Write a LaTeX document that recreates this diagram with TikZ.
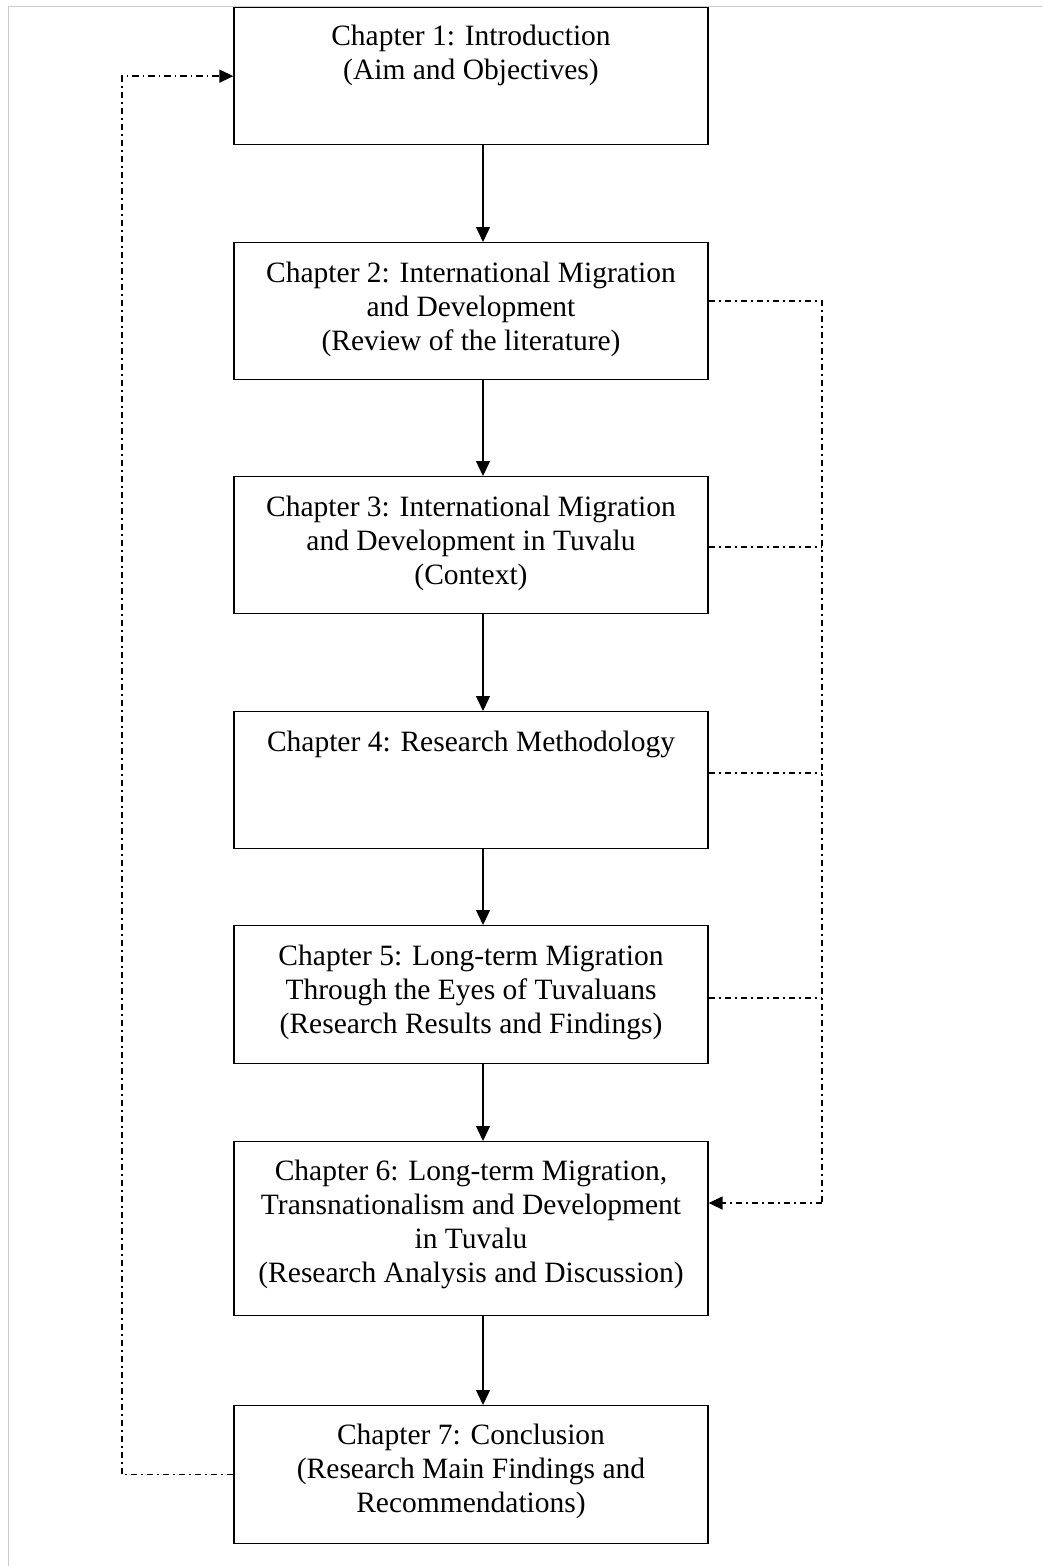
\documentclass[tikz,border=0pt]{standalone}
\usepackage{fontspec}
\setmainfont{Liberation Serif}
\usetikzlibrary{arrows.meta}
\begin{document}
\begin{tikzpicture}[x=1pt,y=-1pt,
  chbox/.style={draw=black,line width=1.3pt,minimum width=474pt,inner sep=0pt,anchor=north},
  chtext/.style={anchor=north,inner sep=0pt,align=center,font=\fontsize{29.5}{34}\selectfont},
  flow/.style={line width=1.3pt,-{Triangle[length=15pt,width=14pt]}},
  dd/.style={line width=1.4pt,dash pattern=on 6.5pt off 4pt on 1.5pt off 4pt},
  ddarrow/.style={dd,-{Triangle[length=14pt,width=13pt]}}]
\useasboundingbox (0,0) rectangle (1042,1566);
\draw[line width=1pt,color=black!20] (8,1566) -- (8,6.5) -- (1042,6.5);
% boxes
\node[chbox,minimum height=137pt] (b1) at (471,7) {};
\node[chbox,minimum height=137pt] (b2) at (471,242) {};
\node[chbox,minimum height=137pt] (b3) at (471,476) {};
\node[chbox,minimum height=137pt] (b4) at (471,711) {};
\node[chbox,minimum height=138pt] (b5) at (471,925) {};
\node[chbox,minimum height=174pt] (b6) at (471,1141) {};
\node[chbox,minimum height=138pt] (b7) at (471,1405) {};
% texts
\node[chtext] (t1) at ([yshift=-14pt]b1.north) {\strut Chapter 1: Introduction\\\strut(Aim and Objectives)};
\node[chtext] (t2) at ([yshift=-16pt]b2.north) {\strut Chapter 2: International Migration\\\strut and Development\\\strut(Review of the literature)};
\node[chtext] (t3) at ([yshift=-16pt]b3.north) {\strut Chapter 3: International Migration\\\strut and Development in Tuvalu\\\strut(Context)};
\node[chtext] (t4) at ([yshift=-16pt]b4.north) {\strut Chapter 4: Research Methodology};
\node[chtext] (t5) at ([yshift=-16pt]b5.north) {\strut Chapter 5: Long-term Migration\\\strut Through the Eyes of Tuvaluans\\\strut(Research Results and Findings)};
\node[chtext] (t6) at ([yshift=-15pt]b6.north) {\strut Chapter 6: Long-term Migration,\\\strut Transnationalism and Development\\\strut in Tuvalu\\\strut(Research Analysis and Discussion)};
\node[chtext] (t7) at ([yshift=-15pt]b7.north) {\strut Chapter 7: Conclusion\\\strut(Research Main Findings and\\\strut Recommendations)};
% solid flow arrows
\coordinate (ax) at (483,0);
\draw[flow] (b1.south -| ax) -- (b2.north -| ax);
\draw[flow] (b2.south -| ax) -- (b3.north -| ax);
\draw[flow] (b3.south -| ax) -- (b4.north -| ax);
\draw[flow] (b4.south -| ax) -- (b5.north -| ax);
\draw[flow] (b5.south -| ax) -- (b6.north -| ax);
\draw[flow] (b6.south -| ax) -- (b7.north -| ax);
% right feedback line
\coordinate (rx) at (822,0);
\coordinate (y2) at (0,301);
\coordinate (y3) at (0,547);
\coordinate (y4) at (0,773);
\coordinate (y5) at (0,998);
\coordinate (y6) at (0,1203);
\draw[dd] (b2.east |- y2) -- (rx |- y2) -- (rx |- y6);
\draw[dd] (b3.east |- y3) -- (rx |- y3);
\draw[dd] (b4.east |- y4) -- (rx |- y4);
\draw[dd] (b5.east |- y5) -- (rx |- y5);
\draw[ddarrow] (rx |- y6) -- (b6.east |- y6);
% left feedback line
\coordinate (lx) at (122,0);
\draw[ddarrow] (b7.west) -- (lx |- b7.west) -- (lx |- b1.west) -- (b1.west);
\end{tikzpicture}
\end{document}
